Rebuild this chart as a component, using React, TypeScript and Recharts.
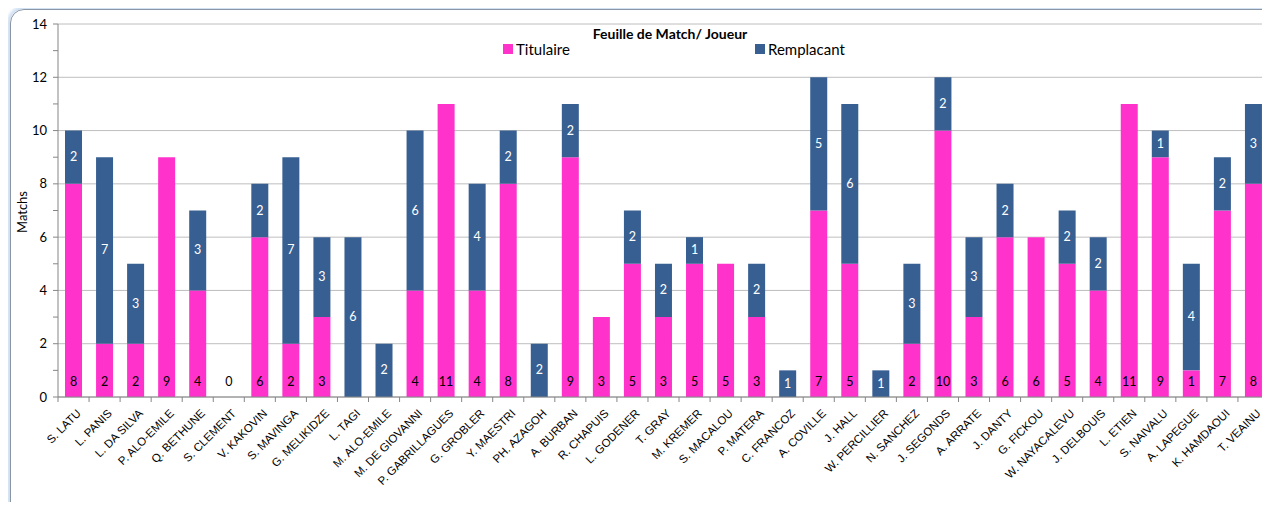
import React from "react";
import { BarChart, Bar, XAxis, YAxis, CartesianGrid, LabelList } from "recharts";

const players = [
  "S. LATU", "L.  PANIS", "L. DA SILVA", "P. ALO-EMILE", "Q. BETHUNE", "S. CLEMENT",
  "V. KAKOVIN", "S. MAVINGA", "G. MELIKIDZE", "L. TAGI", "M. ALO-EMILE", "M. DE GIOVANNI",
  "P. GABRILLAGUES", "G. GROBLER", "Y.  MAESTRI", "PH. AZAGOH", "A.  BURBAN", "R. CHAPUIS",
  "L. GODENER", "T.  GRAY", "M. KREMER", "S. MACALOU", "P. MATERA", "C. FRANCOZ",
  "A. COVILLE", "J. HALL", "W. PERCILLIER", "N. SANCHEZ", "J. SEGONDS", "A. ARRATE",
  "J. DANTY", "G.  FICKOU", "W. NAYACALEVU", "J. DELBOUIS", "L. ETIEN", "S. NAIVALU",
  "A. LAPEGUE", "K. HAMDAOUI", "T. VEAINU",
];

const titulaire: (number | null)[] = [
  8, 2, 2, 9, 4, 0, 6, 2, 3, null, null, 4, 11, 4, 8, null, 9, 3,
  5, 3, 5, 5, 3, null, 7, 5, null, 2, 10, 3, 6, 6, 5, 4, 11, 9, 1, 7, 8,
];

const remplacant: (number | null)[] = [
  2, 7, 3, null, 3, null, 2, 7, 3, 6, 2, 6, null, 4, 2, 2, 2, null,
  2, 2, 1, null, 2, 1, 5, 6, 1, 3, 2, 3, 2, null, 2, 2, null, 1, 4, 2, 3,
];

const yTicks = [0, 1, 2, 3, 4, 5, 6, 7, 8, 9, 10, 11, 12, 13, 14];
const gridValues = [0, 2, 4, 6, 8, 10, 12, 14];

const data = players.map((name, i) => ({
  name,
  tit: titulaire[i],
  rem: remplacant[i],
}));

const PINK = "#FF33CC";
const BLUE = "#375F92";
const FONT = "Lato, 'Open Sans', sans-serif";

const W = 1270;
const H = 510;
const LEFT = 58;
const RIGHT = 1;
const STEP = (W - LEFT - RIGHT) / players.length;

const XTick = (p: any) => {
  const { x, y, payload, index } = p;
  const left = x - STEP / 2;
  const tx = x + 8;
  const ty = y + 17;
  return (
    <g>
      <line x1={left} y1={y} x2={left} y2={y + 5} stroke="#868686" />
      {index === players.length - 1 && (
        <line x1={x + STEP / 2} y1={y} x2={x + STEP / 2} y2={y + 5} stroke="#868686" />
      )}
      <text
        x={tx}
        y={ty}
        textAnchor="end"
        fontSize={11.5}
        fontFamily="'Liberation Sans', Arial, sans-serif"
        fill="#000"
        transform={`rotate(-45, ${tx}, ${ty})`}
      >
        {payload.value}
      </text>
    </g>
  );
};

const YTick = (p: any) => {
  const { x, y, payload } = p;
  if (payload.value % 2 !== 0) return <g />;
  return (
    <text x={x - 2} y={y} dy={4.5} textAnchor="end" fontSize={13} fontFamily={FONT} fill="#000">
      {payload.value}
    </text>
  );
};

const box = (p: any) => {
  const v = p.viewBox || {};
  return {
    x: p.x ?? v.x,
    y: p.y ?? v.y,
    w: p.width ?? v.width,
    h: p.height ?? v.height,
  };
};

const TitLabel = (p: any) => {
  if (p.value === null || p.value === undefined) return null;
  const b = box(p);
  return (
    <text x={b.x + b.w / 2} y={b.y + b.h - 15} dy={4} textAnchor="middle" fontSize={12.5} fontFamily={FONT} fill="#000">
      {p.value}
    </text>
  );
};

const RemLabel = (p: any) => {
  if (!p.value) return null;
  const b = box(p);
  return (
    <text x={b.x + b.w / 2} y={b.y + b.h / 2} dy={4} textAnchor="middle" fontSize={12.5} fontFamily={FONT} fill="#fff">
      {p.value}
    </text>
  );
};

export default function App() {
  return (
    <div style={{ position: "relative", width: W, height: H, margin: -8, overflow: "hidden", background: "#fff" }}>
      <div
        style={{
          position: "absolute",
          left: 10,
          top: 9,
          right: -40,
          bottom: -6,
          border: "1px solid #8a96a3",
          borderRadius: 14,
          boxShadow: "0 0 3px 3px #cfe0f3",
        }}
      />
      <div style={{ position: "absolute", left: 0, top: 0 }}>
        <BarChart width={W} height={H} data={data} margin={{ top: 24, right: RIGHT, bottom: 0, left: 0 }}>
          <CartesianGrid vertical={false} horizontalValues={gridValues} stroke="#BEBEBE" />
          <XAxis
            dataKey="name"
            interval={0}
            height={113}
            tickLine={false}
            tickSize={0}
            tickMargin={0}
            tick={<XTick />}
            axisLine={{ stroke: "#868686" }}
          />
          <YAxis
            width={LEFT}
            domain={[0, 14]}
            ticks={yTicks}
            interval={0}
            tickSize={5}
            tickMargin={4}
            tickLine={{ stroke: "#868686" }}
            axisLine={{ stroke: "#868686" }}
            tick={<YTick />}
          />
          <Bar dataKey="tit" stackId="a" fill={PINK} barSize={17} minPointSize={0.01} isAnimationActive={false}>
            <LabelList dataKey="tit" content={<TitLabel />} />
          </Bar>
          <Bar dataKey="rem" stackId="a" fill={BLUE} barSize={17} isAnimationActive={false}>
            <LabelList dataKey="rem" content={<RemLabel />} />
          </Bar>
        </BarChart>
      </div>
      <div
        style={{
          position: "absolute",
          left: 14,
          top: 212,
          transform: "translate(-50%, -50%) rotate(-90deg)",
          marginLeft: 8,
          fontFamily: FONT,
          fontSize: 13,
          whiteSpace: "nowrap",
        }}
      >
        Matchs
      </div>
      <div
        style={{
          position: "absolute",
          left: 670,
          top: 25,
          transform: "translateX(-50%)",
          fontFamily: FONT,
          fontWeight: "bold",
          fontSize: 14,
          whiteSpace: "nowrap",
        }}
      >
        Feuille de Match/ Joueur
      </div>
      <div style={{ position: "absolute", left: 503, top: 40, display: "flex", alignItems: "center", fontFamily: FONT, fontSize: 15 }}>
        <span style={{ display: "inline-block", width: 10, height: 10, background: PINK, marginRight: 3 }} />
        Titulaire
      </div>
      <div style={{ position: "absolute", left: 755, top: 40, display: "flex", alignItems: "center", fontFamily: FONT, fontSize: 15 }}>
        <span style={{ display: "inline-block", width: 10, height: 10, background: BLUE, marginRight: 3 }} />
        Remplacant
      </div>
    </div>
  );
}
